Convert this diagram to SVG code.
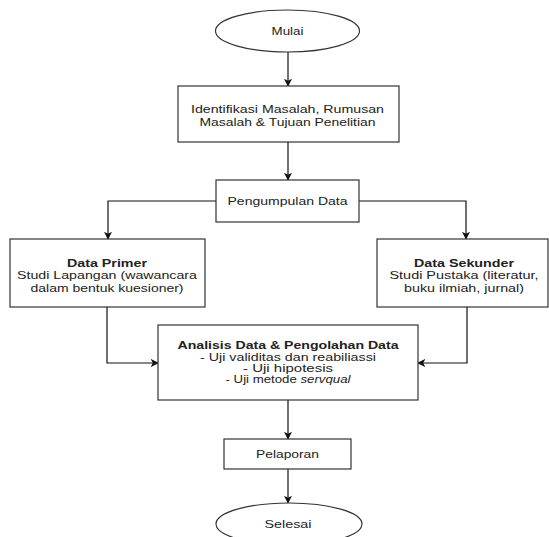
<svg xmlns="http://www.w3.org/2000/svg" width="549" height="537" viewBox="0 0 549 537">
<style>
.shape{fill:#fff;stroke:#333;stroke-width:1.2}
.edge{fill:none;stroke:#111;stroke-width:1.2}
text{font-family:"Liberation Sans",Arial,sans-serif;font-size:11.5px;fill:#222;text-anchor:middle}
.b{font-weight:bold}
</style>
<defs>
<marker id="ah" viewBox="0 0 10 10" refX="9" refY="5" markerWidth="8" markerHeight="8" markerUnits="userSpaceOnUse" orient="auto">
<path d="M0,0 L10,5 L0,10 L2.5,5 Z" fill="#111"/>
</marker>
</defs>
<rect width="549" height="537" fill="#fff"/>
<g id="connectors">
<path class="edge" d="M288,52 V86" marker-end="url(#ah)"/>
<path class="edge" d="M288,142 V180" marker-end="url(#ah)"/>
<path class="edge" d="M216,201 H108 V239" marker-end="url(#ah)"/>
<path class="edge" d="M359,201 H466 V239" marker-end="url(#ah)"/>
<path class="edge" d="M107,307 V363 H158" marker-end="url(#ah)"/>
<path class="edge" d="M467,307 V363 H418" marker-end="url(#ah)"/>
<path class="edge" d="M288,400 V439" marker-end="url(#ah)"/>
<path class="edge" d="M288,469 V503" marker-end="url(#ah)"/>
</g>
<g id="mulai">
<ellipse class="shape" cx="287.5" cy="31" rx="72" ry="21"/>
<text x="287.5" y="35" textLength="32" lengthAdjust="spacingAndGlyphs">Mulai</text>
</g>
<g id="identifikasi">
<rect class="shape" x="178" y="86" width="221" height="56"/>
<text x="287.5" y="113" textLength="193" lengthAdjust="spacingAndGlyphs">Identifikasi Masalah, Rumusan</text>
<text x="287.5" y="126" textLength="176" lengthAdjust="spacingAndGlyphs">Masalah &amp; Tujuan Penelitian</text>
</g>
<g id="pengumpulan">
<rect class="shape" x="216" y="180" width="143" height="42"/>
<text x="287.5" y="205" textLength="120" lengthAdjust="spacingAndGlyphs">Pengumpulan Data</text>
</g>
<g id="primer">
<rect class="shape" x="10" y="239" width="195" height="68"/>
<text class="b" x="107" y="266.5" textLength="80" lengthAdjust="spacingAndGlyphs">Data Primer</text>
<text x="107" y="279" textLength="180" lengthAdjust="spacingAndGlyphs">Studi Lapangan (wawancara</text>
<text x="107" y="291.5" textLength="153" lengthAdjust="spacingAndGlyphs">dalam bentuk kuesioner)</text>
</g>
<g id="sekunder">
<rect class="shape" x="377" y="239" width="171" height="68"/>
<text class="b" x="464" y="266.5" textLength="100" lengthAdjust="spacingAndGlyphs">Data Sekunder</text>
<text x="464" y="279" textLength="149" lengthAdjust="spacingAndGlyphs">Studi Pustaka (literatur,</text>
<text x="464" y="291.5" textLength="120" lengthAdjust="spacingAndGlyphs">buku ilmiah, jurnal)</text>
</g>
<g id="analisis">
<rect class="shape" x="158" y="325" width="260" height="75"/>
<text class="b" x="288" y="349" textLength="221" lengthAdjust="spacingAndGlyphs">Analisis Data &amp; Pengolahan Data</text>
<text x="288" y="361" textLength="176" lengthAdjust="spacingAndGlyphs">- Uji validitas dan reabiliassi</text>
<text x="288" y="372" textLength="90" lengthAdjust="spacingAndGlyphs">- Uji hipotesis</text>
<text x="288" y="383" textLength="125" lengthAdjust="spacingAndGlyphs">- Uji metode <tspan font-style="italic">servqual</tspan></text>
</g>
<g id="pelaporan">
<rect class="shape" x="224" y="439" width="127" height="30"/>
<text x="287.5" y="458" textLength="63" lengthAdjust="spacingAndGlyphs">Pelaporan</text>
</g>
<g id="selesai">
<ellipse class="shape" cx="289" cy="524" rx="73" ry="21"/>
<text x="288" y="528" textLength="47" lengthAdjust="spacingAndGlyphs">Selesai</text>
</g>
</svg>
